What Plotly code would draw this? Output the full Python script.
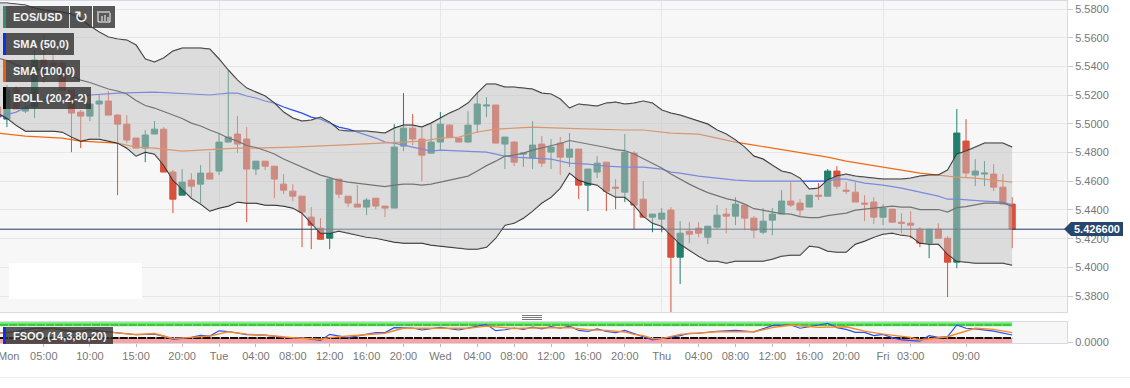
import numpy as np
import plotly.graph_objects as go

W, H = 1130, 388
hours = list(range(111))
opens = [5.5117,5.5033,5.5242,5.5089,5.5117,5.5445,5.5424,5.5424,5.5235,5.5082,
5.5054,5.5138,5.5159,5.5061,5.4998,5.4901,5.4831,5.4929,5.4963,5.4664,
5.4503,5.4608,5.4580,5.4657,5.4671,5.4873,5.4929,5.4894,5.4685,5.4740,
5.4705,5.4580,5.4531,5.4496,5.4350,5.4273,5.4203,5.4615,5.4496,5.4441,
5.4420,5.4482,5.4427,5.4413,5.4845,5.4970,5.4894,5.4796,5.4873,5.4991,
5.4901,5.4873,5.4998,5.5124,5.5131,5.4859,5.4873,5.4789,5.4761,5.4859,
5.4803,5.4866,5.4768,5.4824,5.4573,5.4664,5.4733,5.4559,5.4524,5.4796,
5.4475,5.4350,5.4336,5.4399,5.4071,5.4252,5.4273,5.4210,5.4280,5.4371,
5.4357,5.4434,5.4343,5.4245,5.4329,5.4371,5.4462,5.4448,5.4420,5.4503,
5.4496,5.4671,5.4538,5.4524,5.4448,5.4455,5.4350,5.4406,5.4315,5.4308,
5.4266,5.4169,5.4266,5.4203,5.4036,5.4880,5.4643,5.4650,5.4650,5.4559,5.4441]
closes = [5.5047,5.5235,5.5103,5.5110,5.5445,5.5333,5.5403,5.5235,5.5075,5.5054,
5.5138,5.5159,5.5061,5.4998,5.4887,5.4831,5.4922,5.4963,5.4664,5.4475,
5.4594,5.4566,5.4657,5.4615,5.4873,5.4908,5.4859,5.4685,5.4740,5.4705,
5.4615,5.4538,5.4496,5.4385,5.4294,5.4196,5.4615,5.4510,5.4448,5.4420,
5.4469,5.4427,5.4413,5.4838,5.4970,5.4894,5.4782,5.4873,5.4998,5.4908,
5.4873,5.4991,5.5138,5.5131,5.4866,5.4908,5.4733,5.4796,5.4852,5.4726,
5.4838,5.4768,5.4824,5.4573,5.4685,5.4726,5.4531,5.4552,5.4803,5.4434,
5.4350,5.4371,5.4378,5.4071,5.4238,5.4231,5.4238,5.4287,5.4364,5.4357,
5.4441,5.4343,5.4259,5.4322,5.4371,5.4462,5.4434,5.4399,5.4503,5.4496,
5.4671,5.4566,5.4531,5.4455,5.4441,5.4350,5.4413,5.4315,5.4308,5.4294,
5.4169,5.4266,5.4203,5.4036,5.4936,5.4657,5.4671,5.4657,5.4559,5.4441,5.4266]
highs = [5.5131,5.5270,5.5263,5.5159,5.5514,5.5619,5.5493,5.5438,5.5235,5.5096,
5.5145,5.5201,5.5228,5.5068,5.5061,5.4901,5.4957,5.5019,5.4977,5.4678,
5.4685,5.4657,5.4712,5.4803,5.4936,5.5375,5.5054,5.4977,5.4740,5.4740,
5.4705,5.4650,5.4580,5.4496,5.4420,5.4343,5.4629,5.4615,5.4496,5.4573,
5.4482,5.4482,5.4427,5.4998,5.5214,5.5068,5.4970,5.4998,5.5082,5.4998,
5.4901,5.5089,5.5214,5.5187,5.5131,5.4908,5.4880,5.4796,5.5019,5.4915,
5.4894,5.4908,5.4936,5.4824,5.4685,5.4775,5.4733,5.4615,5.4929,5.4810,
5.4601,5.4371,5.4413,5.4420,5.4322,5.4315,5.4315,5.4287,5.4434,5.4413,
5.4489,5.4434,5.4357,5.4413,5.4413,5.4538,5.4594,5.4475,5.4503,5.4587,
5.4685,5.4705,5.4594,5.4594,5.4503,5.4489,5.4441,5.4406,5.4378,5.4392,
5.4280,5.4266,5.4308,5.4217,5.5103,5.5033,5.4754,5.4740,5.4719,5.4650,5.4489]
lows = [5.5047,5.4977,5.5103,5.5075,5.5040,5.5284,5.5403,5.5235,5.4803,5.4831,
5.5019,5.4908,5.5061,5.4503,5.4866,5.4831,5.4733,5.4929,5.4664,5.4378,
5.4503,5.4489,5.4448,5.4615,5.4643,5.4873,5.4796,5.4315,5.4643,5.4678,
5.4482,5.4510,5.4462,5.4141,5.4127,5.4196,5.4127,5.4482,5.4420,5.4420,
5.4364,5.4406,5.4350,5.4413,5.4810,5.4852,5.4601,5.4796,5.4817,5.4908,
5.4873,5.4873,5.4936,5.5047,5.4866,5.4685,5.4705,5.4699,5.4685,5.4699,
5.4685,5.4643,5.4699,5.4475,5.4392,5.4622,5.4392,5.4406,5.4455,5.4266,
5.4350,5.4245,5.4245,5.3688,5.3884,5.4169,5.4210,5.4162,5.4266,5.4238,
5.4294,5.4259,5.4203,5.4231,5.4224,5.4371,5.4420,5.4350,5.4420,5.4469,
5.4496,5.4545,5.4510,5.4455,5.4322,5.4301,5.4294,5.4315,5.4238,5.4203,
5.4141,5.4064,5.4203,5.3793,5.3994,5.4629,5.4566,5.4566,5.4531,5.4441,5.4134]

boll_upper = [5.5842,5.5842,5.5835,5.5828,5.5807,5.5793,5.5786,5.5779,5.5765,5.5730,
5.5682,5.5640,5.5605,5.5591,5.5584,5.5549,5.5452,5.5431,5.5459,5.5507,
5.5528,5.5528,5.5528,5.5521,5.5452,5.5375,5.5305,5.5249,5.5221,5.5194,
5.5145,5.5082,5.5040,5.5019,5.5026,5.5047,5.5012,5.4957,5.4950,5.4950,
5.4950,5.4943,5.4936,5.4970,5.4991,5.4991,5.4977,5.5005,5.5040,5.5075,
5.5103,5.5145,5.5214,5.5277,5.5277,5.5256,5.5256,5.5249,5.5242,5.5214,
5.5208,5.5173,5.5110,5.5138,5.5131,5.5124,5.5145,5.5152,5.5138,5.5145,
5.5159,5.5145,5.5096,5.5075,5.5061,5.5040,5.5019,5.4998,5.4957,5.4929,
5.4887,5.4838,5.4775,5.4754,5.4712,5.4671,5.4657,5.4622,5.4545,5.4552,
5.4608,5.4636,5.4650,5.4636,5.4629,5.4622,5.4615,5.4615,5.4615,5.4622,
5.4636,5.4643,5.4643,5.4678,5.4789,5.4810,5.4838,5.4866,5.4866,5.4866,5.4838]
boll_lower = [5.5075,5.5040,5.4991,5.4950,5.4950,5.4950,5.4950,5.4943,5.4908,5.4880,
5.4894,5.4894,5.4880,5.4866,5.4831,5.4775,5.4803,5.4789,5.4712,5.4608,
5.4545,5.4482,5.4441,5.4392,5.4413,5.4427,5.4455,5.4448,5.4448,5.4434,
5.4434,5.4427,5.4413,5.4378,5.4308,5.4238,5.4238,5.4252,5.4238,5.4224,
5.4210,5.4203,5.4190,5.4176,5.4169,5.4169,5.4169,5.4155,5.4148,5.4141,
5.4134,5.4127,5.4127,5.4141,5.4203,5.4294,5.4308,5.4343,5.4392,5.4448,
5.4489,5.4552,5.4657,5.4608,5.4587,5.4573,5.4524,5.4489,5.4489,5.4434,
5.4357,5.4308,5.4287,5.4224,5.4162,5.4120,5.4078,5.4043,5.4043,5.4029,
5.4043,5.4043,5.4043,5.4043,5.4057,5.4078,5.4085,5.4085,5.4148,5.4141,
5.4113,5.4106,5.4106,5.4162,5.4183,5.4210,5.4231,5.4238,5.4224,5.4217,
5.4169,5.4162,5.4162,5.4092,5.4043,5.4036,5.4029,5.4029,5.4029,5.4029,5.4015]
boll_mid = [5.5459,5.5441,5.5413,5.5389,5.5379,5.5372,5.5368,5.5361,5.5337,5.5305,
5.5288,5.5267,5.5243,5.5229,5.5208,5.5162,5.5128,5.5110,5.5086,5.5058,
5.5037,5.5005,5.4985,5.4957,5.4933,5.4901,5.4880,5.4849,5.4835,5.4814,
5.4790,5.4755,5.4727,5.4699,5.4667,5.4643,5.4625,5.4605,5.4594,5.4587,
5.4580,5.4573,5.4563,5.4573,5.4580,5.4580,5.4573,5.4580,5.4594,5.4608,
5.4619,5.4636,5.4671,5.4709,5.4740,5.4775,5.4782,5.4796,5.4817,5.4831,
5.4849,5.4863,5.4884,5.4873,5.4859,5.4849,5.4835,5.4821,5.4814,5.4790,
5.4758,5.4727,5.4692,5.4650,5.4612,5.4580,5.4549,5.4521,5.4500,5.4479,
5.4465,5.4441,5.4409,5.4399,5.4385,5.4375,5.4371,5.4354,5.4347,5.4347,
5.4361,5.4371,5.4378,5.4399,5.4406,5.4416,5.4423,5.4427,5.4420,5.4420,
5.4403,5.4403,5.4403,5.4385,5.4416,5.4423,5.4434,5.4448,5.4448,5.4448,5.4427]

sma50_hours = [0,2,4,5,7,10,13,17,21,23,24,25,26,27,28,29,30,31,32,33,34,35,36,37,38,39,40,41,42,43,44,45,46,47,48,50,52,53,54,55,56,58,60,62,64,66,68,70,71,72,73,74,76,78,80,82,84,86,88,90,91,92,94,96,98,100,102,103,104,107,109,110]
sma50 = [5.5047,5.5082,5.5145,5.5166,5.5194,5.5201,5.5214,5.5221,5.5208,5.5201,5.5208,5.5214,5.5214,5.5194,5.5180,5.5159,5.5145,5.5117,5.5096,5.5075,5.5047,5.5033,5.5005,5.4977,5.4963,5.4943,5.4922,5.4901,5.4873,5.4866,5.4852,5.4838,5.4824,5.4810,5.4817,5.4810,5.4803,5.4803,5.4789,5.4775,5.4768,5.4761,5.4754,5.4726,5.4719,5.4705,5.4699,5.4699,5.4692,5.4685,5.4664,5.4657,5.4636,5.4622,5.4608,5.4601,5.4601,5.4601,5.4601,5.4601,5.4615,5.4615,5.4587,5.4573,5.4552,5.4524,5.4496,5.4475,5.4475,5.4462,5.4455,5.4434]
sma100_hours = [0,3,7,9,11,13,15,17,19,20,22,24,26,28,32,37,42,46,48,50,52,54,56,58,61,64,68,70,73,76,78,80,82,84,86,88,90,92,94,96,98,100,102,104,106,108,110]
sma100 = [5.4936,5.4915,5.4901,5.4880,5.4873,5.4866,5.4838,5.4831,5.4817,5.4810,5.4817,5.4824,5.4831,5.4831,5.4838,5.4852,5.4866,5.4880,5.4901,5.4908,5.4943,5.4963,5.4970,5.4977,5.4970,5.4963,5.4957,5.4957,5.4936,5.4929,5.4901,5.4873,5.4852,5.4831,5.4810,5.4789,5.4768,5.4740,5.4719,5.4699,5.4678,5.4657,5.4643,5.4629,5.4622,5.4608,5.4594]
last_price = 5.4266

k_hours = [0,2,3,4,5,6,8,10,12,14,15,17,18,19,21,22,23,24,25,27,29,31,33,35,36,38,40,41,42,43,45,46,48,50,52,53,54,55,56,57,58,59,60,61,62,63,64,65,66,67,68,69,70,71,72,73,74,75,76,78,80,82,84,86,87,88,90,91,92,93,94,95,96,97,98,100,101,102,103,104,105,106,108,110]
k_line = [42,50,58,65,65,65,48,58,48,37,35,38,29,14,23,32,29,53,50,36,33,23,20,9,37,22,38,45,45,68,66,57,69,57,75,82,54,58,66,60,70,62,72,65,75,55,50,62,50,45,55,42,26,11,18,22,31,42,42,51,55,48,77,80,65,72,88,68,60,46,46,31,37,22,11,6,31,23,26,80,65,62,52,34]
d_hours = [0,4,6,8,12,15,17,19,21,23,25,27,30,32,35,36,38,42,44,47,51,53,54,56,58,60,62,64,66,68,69,70,71,72,74,78,82,84,86,89,92,94,96,99,100,103,106,108,110]
d_line = [42,49,65,54,47,36,41,18,23,29,49,38,29,21,14,22,29,42,65,65,65,75,72,64,66,66,68,58,55,48,37,31,18,17,37,49,49,68,80,69,72,52,38,23,11,26,65,60,45]
levels = [80, 20]

x_tick_hours = [5,10,15,20,24,28,32,36,40,44,48,52,56,60,64,68,72,76,80,84,88,92,96,99,105]
x_tick_text = ["05:00","10:00","15:00","20:00","Tue","04:00","08:00","12:00","16:00","20:00","Wed","04:00","08:00","12:00","16:00","20:00","Thu","04:00","08:00","12:00","16:00","20:00","Fri","03:00","09:00"]
y_ticks = [5.38,5.40,5.42,5.44,5.46,5.48,5.50,5.52,5.54,5.56,5.58]
X_RANGE = [0.25, 115.95]

FONT = "Liberation Sans"
GRID = "#e7e7e7"
EDGE = "#d6d9e8"

def px(x): return x / W
def py(y): return 1 - y / H

fig = go.Figure()
fig.add_trace(go.Candlestick(x=hours, open=opens, high=highs, low=lows, close=closes,
    increasing=dict(line=dict(color="#217f6b", width=1), fillcolor="#217f6b"),
    decreasing=dict(line=dict(color="#d9503c", width=1), fillcolor="#d9503c"),
    whiskerwidth=0, showlegend=False, hoverinfo="skip", xaxis="x", yaxis="y"))
fig.add_trace(go.Scatter(x=sma50_hours, y=sma50, mode="lines", line=dict(color="#2c50f0", width=1.2), hoverinfo="skip"))
fig.add_trace(go.Scatter(x=sma100_hours, y=sma100, mode="lines", line=dict(color="#f06a14", width=1.2), hoverinfo="skip"))
fig.add_trace(go.Scatter(x=X_RANGE, y=[last_price, last_price], mode="lines", line=dict(color="#1f3a63", width=1), hoverinfo="skip"))
for band in (boll_upper, boll_mid, boll_lower):
    fig.add_trace(go.Scatter(x=hours, y=band, mode="lines", line=dict(color="#222222", width=1.2), hoverinfo="skip"))
fig.add_trace(go.Scatter(x=hours + hours[::-1], y=boll_upper + boll_lower[::-1], mode="lines",
    line=dict(width=0), fill="toself", fillcolor="rgba(195,195,195,0.515)", hoverinfo="skip"))

# oscillator panel
lx = [X_RANGE[0], hours[-1]]
fig.add_trace(go.Scatter(x=lx + lx[::-1], y=[levels[1], levels[1], -3, -3], mode="lines", line=dict(width=0),
    fill="toself", fillcolor="#f9a3a3", xaxis="x2", yaxis="y2", hoverinfo="skip"))
fig.add_trace(go.Scatter(x=lx, y=[levels[0] + 3, levels[0] + 3], mode="lines", line=dict(color="#5fee5f", width=4), xaxis="x2", yaxis="y2", hoverinfo="skip"))
fig.add_trace(go.Scatter(x=lx, y=[levels[0], levels[0]], mode="lines", line=dict(color="rgba(20,80,20,0.6)", width=1, dash="8px,1.2px"), xaxis="x2", yaxis="y2", hoverinfo="skip"))
fig.add_trace(go.Scatter(x=lx, y=[levels[1], levels[1]], mode="lines", line=dict(color="#111111", width=2, dash="8.2px,1px"), xaxis="x2", yaxis="y2", hoverinfo="skip"))
fig.add_trace(go.Scatter(x=k_hours, y=k_line, mode="lines", line=dict(color="#2c50f0", width=1.2), xaxis="x2", yaxis="y2", hoverinfo="skip"))
fig.add_trace(go.Scatter(x=d_hours, y=d_line, mode="lines", line=dict(color="#f58a2a", width=1.4), xaxis="x2", yaxis="y2", hoverinfo="skip"))

shapes = []
def rect(x0, y0, x1, y1, color):
    shapes.append(dict(type="rect", xref="paper", yref="paper", x0=px(x0), x1=px(x1), y0=py(y0), y1=py(y1),
                       fillcolor=color, line=dict(width=0), layer="above"))
def seg(x0, y0, x1, y1, color="#ffffff", width=1):
    shapes.append(dict(type="line", xref="paper", yref="paper", x0=px(x0), x1=px(x1), y0=py(y0), y1=py(y1),
                       line=dict(color=color, width=width), layer="above"))

BOX = "rgba(48,48,48,0.8)"
rect(9, 263, 142, 299, "#ffffff")
rect(3, 6, 69, 28, BOX); rect(3, 6, 6, 28, "#3a8a78")
rect(70, 6, 92, 28, BOX); rect(93, 6, 115, 28, BOX)
rect(3, 33, 74, 55, BOX); rect(3, 33, 6, 55, "#0a2ff0")
rect(3, 60, 80, 82, BOX); rect(3, 60, 6, 82, "#e8600c")
rect(3, 87, 91, 109, BOX); rect(3, 87, 6, 109, "#000000")
rect(3, 327, 113, 344, BOX); rect(3, 327, 6, 344, "#0a2ff0")
# small bar-chart glyph
seg(98, 13, 98, 22); seg(98, 22, 110, 22); seg(110, 13, 110, 22); seg(97, 12, 110, 12)
seg(102, 16, 102, 21); seg(105, 15, 105, 21); seg(108, 17, 108, 21)
# tray handle between the panels
for yy in (315.5, 317.5, 319.5):
    seg(522, yy, 542, yy, "#777777", 1)
# page foot rule
seg(0, 377.5, W, 377.5, "#eeeeee", 1)
# last price flag
flag = ("M {} {} L {} {} L {} {} L {} {} L {} {} Z".format(
    px(1064), py(229), px(1071), py(222), px(1123), py(222), px(1123), py(236), px(1071), py(236)))
shapes.append(dict(type="path", xref="paper", yref="paper", path=flag, fillcolor="#26466d", line=dict(width=0), layer="above"))

def label(text, x, y, size=11, bold=True, color="#f2f2f2", anchor="left", family=FONT):
    t = "<b>%s</b>" % text if bold else text
    return dict(text=t, xref="paper", yref="paper", x=px(x), y=py(y), xanchor=anchor, yanchor="middle",
                showarrow=False, font=dict(family=family, size=size, color=color))

annotations = [
    label("EOS/USD", 11, 17),
    label("SMA (50,0)", 11, 44),
    label("SMA (100,0)", 11, 71),
    label("BOLL (20,2,-2)", 11, 98),
    label("FSOO (14,3,80,20)", 11, 336),
    label("\u21bb", 81, 17, size=17, bold=False, anchor="center", family="DejaVu Sans"),
    label("%.6f" % last_price, 1097, 229, anchor="center", color="#ffffff"),
    label("Mon", 8.3, 356, bold=False, color="#777777", anchor="center"),
]

fig.update_layout(
    width=W, height=H, margin=dict(l=0, r=0, t=0, b=0, pad=0), autosize=False,
    paper_bgcolor="#ffffff", plot_bgcolor="#f7f7f7", showlegend=False, hovermode=False,
    boxgap=0.33, boxgroupgap=0,
    font=dict(family=FONT, size=11, color="#777777"),
    xaxis=dict(domain=[0, px(1067)], range=X_RANGE, rangeslider=dict(visible=False), anchor="y", automargin=False,
               tickvals=[24, 48, 72, 96], showticklabels=False, ticks="", showgrid=True, gridcolor=GRID, gridwidth=1,
               showline=True, linecolor=EDGE, linewidth=1, mirror=True, zeroline=False),
    yaxis=dict(domain=[py(312), py(1)], range=[5.3689, 5.5856], side="right", anchor="x", automargin=False,
               tickvals=y_ticks, tickformat=".4f", ticks="outside", ticklen=5, tickcolor="#cccccc",
               showgrid=True, gridcolor=GRID, showline=True, linecolor=EDGE, linewidth=1, zeroline=False),
    xaxis2=dict(domain=[0, px(1067)], range=X_RANGE, anchor="y2", automargin=False,
                tickvals=x_tick_hours, ticktext=x_tick_text, ticks="outside", ticklen=3, tickcolor="#bbbbbb",
                showgrid=False, showline=True, linecolor=EDGE, linewidth=1, mirror=True, zeroline=False,
                tickangle=0),
    yaxis2=dict(domain=[py(343), py(322)], range=[-3, 93.8], side="right", anchor="x2", automargin=False,
                tickvals=[0], ticktext=["0.0000"], ticks="outside", ticklen=5, tickcolor="#cccccc",
                showgrid=False, showline=True, linecolor=EDGE, linewidth=1, zeroline=False),
    shapes=shapes, annotations=annotations,
)
fig.write_html("out.html", config=dict(displayModeBar=False, responsive=False),
               post_script="document.body.style.margin='0';document.body.style.overflow='hidden';")
